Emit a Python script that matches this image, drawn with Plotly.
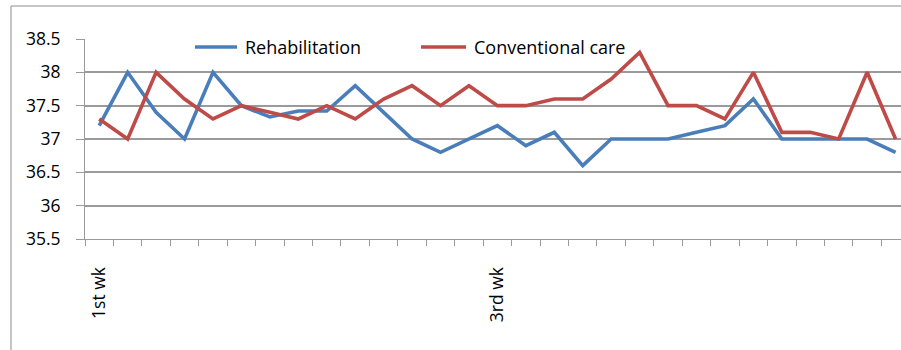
import plotly.graph_objects as go

# Daily body temperature (°C) over the observation period
days = list(range(29))
week_tick_positions = [0, 14]
week_tick_labels = ["1st wk", "3rd wk"]

rehabilitation = [37.2, 38.0, 37.4, 37.0, 38.0, 37.5, 37.33, 37.42, 37.42, 37.8,
                  37.4, 37.0, 36.8, 37.0, 37.2, 36.9, 37.1, 36.6, 37.0, 37.0,
                  37.0, 37.1, 37.2, 37.6, 37.0, 37.0, 37.0, 37.0, 36.8]
conventional_care = [37.3, 37.0, 38.0, 37.6, 37.3, 37.5, 37.4, 37.3, 37.5, 37.3,
                     37.6, 37.8, 37.5, 37.8, 37.5, 37.5, 37.6, 37.6, 37.9, 38.3,
                     37.5, 37.5, 37.3, 38.0, 37.1, 37.1, 37.0, 38.0, 37.0]

y_ticks = [35.5, 36, 36.5, 37, 37.5, 38, 38.5]

series = [
    ("Rehabilitation", rehabilitation, "#4a7ebb"),
    ("Conventional care", conventional_care, "#be4b48"),
]

FONT = "Open Sans"
GRID = "#9a9a9a"
LINE_W = 3.6

fig = go.Figure()
for name, values, color in series:
    fig.add_trace(go.Scatter(x=days, y=values, mode="lines", name=name,
                             line=dict(color=color, width=LINE_W)))

fig.update_layout(
    width=901, height=350,
    margin=dict(l=85, r=0, t=39, b=111),
    paper_bgcolor="white", plot_bgcolor="white",
    font=dict(family=FONT, size=17, color="#000000"),
    showlegend=False,
    xaxis=dict(
        range=[-0.5, 28.19], showgrid=False, zeroline=False,
        showline=True, linecolor=GRID, linewidth=1,
        tickmode="array", tickvals=week_tick_positions, ticktext=week_tick_labels,
        ticks="", tickangle=-90, ticklabelstandoff=20,
        tickfont=dict(size=17.5),
        minor=dict(tick0=0.5, dtick=1, ticks="outside", ticklen=6, tickcolor=GRID, showgrid=False),
    ),
    yaxis=dict(
        range=[35.5, 38.5], tickmode="array", tickvals=y_ticks,
        ticktext=[f"{v:g}" for v in y_ticks],
        showgrid=True, gridcolor=GRID, gridwidth=1.5, zeroline=False,
        showline=True, linecolor=GRID, linewidth=1,
        ticks="outside", ticklen=8, tickcolor=GRID, ticklabelstandoff=12,
        tickfont=dict(size=17.5),
    ),
)

# Legend: line sample followed by series name, laid out in one row inside the plot
legend_layout = [(0.1348, 0.1863), (0.4118, 0.4669)]
legend_y = 0.96
for (name, _, color), (lx0, lx1) in zip(series, legend_layout):
    fig.add_shape(type="line", xref="paper", yref="paper",
                  x0=lx0, x1=lx1, y0=legend_y, y1=legend_y,
                  line=dict(color=color, width=LINE_W))
    fig.add_annotation(xref="paper", yref="paper", x=lx1 + 0.007, y=legend_y,
                       text=name, showarrow=False, xanchor="left", yanchor="middle",
                       font=dict(family=FONT, size=18, color="#000000"))

# Chart-area border
fig.add_shape(type="rect", xref="paper", yref="paper",
              x0=-0.0907, x1=1.2, y0=-1.0, y1=1.165,
              line=dict(color="#8c8c8c", width=1), fillcolor="rgba(0,0,0,0)", layer="below")

fig.write_html("out.html")
